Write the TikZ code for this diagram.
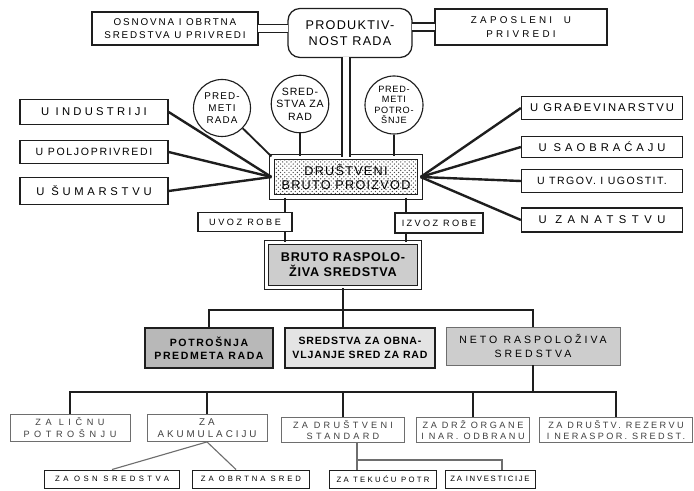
\documentclass[tikz,border=0pt]{standalone}
\usepackage{fontspec}
\setmainfont{Liberation Sans}
\usepackage{tikz}
\usetikzlibrary{patterns,calc}
\definecolor{ink}{HTML}{1E1E1E}
\definecolor{inkgray}{HTML}{6E6E6E}
\definecolor{darkfill}{HTML}{B8B8B8}
\definecolor{midfill}{HTML}{CDCDCD}
\definecolor{lightfill}{HTML}{E4E4E4}
\newcommand\lett[3]{\fontsize{#1}{#2}\selectfont\addfontfeature{LetterSpace=#3}}
\tikzset{
  wh/.style 2 args={minimum width=#1*0.025cm,minimum height=#2*0.025cm},
  dia/.style={minimum size=#1*0.025cm},
  box/.style={draw=ink,fill=white,line width=0.9pt,align=center,inner sep=0pt},
  thinbox/.style={draw=inkgray,fill=white,line width=0.6pt,align=center,
                  inner sep=0pt,text=ink!85},
  roundbox/.style={box,rounded corners=0.3cm},
  ball/.style={draw=ink,fill=white,circle,line width=0.8pt,align=center,
               inner sep=0pt},
  dotbox/.style={draw=ink,line width=0.8pt,double=white,double distance=2.4pt,
                 pattern=crosshatch dots,pattern color=ink!80,align=center,
                 inner sep=0pt},
  greybox/.style={draw=ink,line width=0.8pt,double=white,double distance=2pt,
                  fill=midfill,align=center,inner sep=0pt},
  darkbox/.style={draw=ink,fill=darkfill,line width=1.2pt,align=center,
                  inner sep=0pt},
  lightbox/.style={draw=ink,fill=lightfill,line width=1pt,align=center,
                   inner sep=0pt},
  palebox/.style={draw=inkgray,fill=midfill,line width=0.6pt,align=center,
                  inner sep=0pt},
  link/.style={draw=ink,line width=1.3pt},
  spoke/.style={draw=ink,line width=1.7pt},
  bus/.style={draw=ink,line width=1.6pt},
  thinlink/.style={draw=inkgray,line width=0.8pt},
  pipe/.style={draw=ink,line width=0.8pt,double=white,double distance=0.17cm,
               shorten <=-0.5pt,shorten >=-0.5pt}
}

\begin{document}
\begin{tikzpicture}[x=0.025cm,y=-0.025cm]
  \useasboundingbox (0,0) rectangle (694,491);

  \node[box,wh={166}{33},font=\lett{7}{9.5}{19}] (osnovna) at (175,28.5)
    {OSNOVNA I OBRTNA\\SREDSTVA U PRIVREDI};
  \node[roundbox,wh={124}{49},font=\lett{9}{11}{10}] (prod) at (350,33)
    {PRODUKTIV-\\NOST RADA};
  \node[box,wh={172}{36},font=\lett{7}{10.5}{33}] (zaposleni) at (521,27)
    {ZAPOSLENI\hspace{1.2em}U\\PRIVREDI};

  \node[ball,dia=57,font=\lett{7}{8.5}{12}] (predrada) at (222,108)
    {PRED-\\METI\\RADA};
  \node[ball,dia=56,font=\lett{7.5}{9}{8}] (sredrad) at (300,104)
    {SRED-\\STVA ZA\\RAD};
  \node[ball,dia=58,font=\lett{6.5}{7.5}{8}] (predpotr) at (394,105)
    {PRED-\\METI\\POTRO-\\ŠNJE};

  \node[box,wh={148}{25},font=\lett{8}{9}{29}] (industrija) at (94,112) {U INDUSTRIJI};
  \node[box,wh={148}{23},font=\lett{7.5}{9}{16}] (poljopr) at (94,152) {U POLJOPRIVREDI};
  \node[box,wh={148}{27},font=\lett{8}{9}{33}] (sumarstvo) at (94,191) {U ŠUMARSTVU};

  \node[box,wh={161}{23},font=\lett{8}{9}{18}] (gradj) at (602,108) {U GRAĐEVINARSTVU};
  \node[box,wh={161}{21},font=\lett{8}{9}{35}] (saobr) at (602,147) {U SAOBRAĆAJU};
  \node[box,wh={161}{23},font=\lett{7.5}{9}{14}] (trgov) at (602,181) {U TRGOV. I UGOSTIT.};
  \node[box,wh={161}{24},font=\lett{8}{9}{49}] (zanat) at (602,220) {U ZANATSTVU};

  \node[dotbox,wh={148}{40},font=\lett{9}{10}{10}] (dbp) at (346,177)
    {DRUŠTVENI\\BRUTO PROIZVOD};
  \node[box,wh={94}{19},line width=0.8pt,font=\lett{6.5}{8}{28}] (uvoz) at (245,222)
    {UVOZ ROBE};
  \node[box,wh={88}{20},line width=0.8pt,font=\lett{6.5}{8}{26}] (izvoz) at (439,223)
    {IZVOZ ROBE};
  \node[greybox,wh={153}{45},font={\bfseries\lett{9}{10.5}{6}}] (brs) at (343,265)
    {BRUTO RASPOLO-\\ŽIVA SREDSTVA};

  \node[darkbox,wh={128}{40},font={\bfseries\lett{7.5}{9.5}{15}}] (potrosnja) at (209,348)
    {POTROŠNJA\\PREDMETA RADA};
  \node[lightbox,wh={150}{40},font={\bfseries\lett{7.5}{9.5}{8}}] (obnavlj) at (360,348)
    {SREDSTVA ZA OBNA-\\VLJANJE SRED ZA RAD};
  \node[palebox,wh={174}{38},font=\lett{7.5}{9.5}{28}] (neto) at (533,346)
    {NETO\hspace{0.6em}RASPOLOŽIVA\\SREDSTVA};

  \node[thinbox,wh={120}{27},font=\lett{6.5}{8.5}{50}] (licnu) at (70,428)
    {ZA LIČNU\\POTROŠNJU};
  \node[thinbox,wh={120}{27},font=\lett{7}{8.5}{30}] (akum) at (207,428)
    {ZA\\AKUMULACIJU};
  \node[thinbox,wh={123}{25},font=\lett{6.5}{8}{36}] (drstandard) at (343,430)
    {ZA DRUŠTVENI\\STANDARD};
  \node[thinbox,wh={113}{25},font=\lett{6.5}{8}{28}] (drzorg) at (473,430)
    {ZA DRŽ ORGANE\\I NAR. ODBRANU};
  \node[thinbox,wh={153}{25},font=\lett{6.5}{8}{26}] (rezervu) at (616,430)
    {ZA DRUŠTV. REZERVU\\I NERASPOR. SREDST.};

  \node[box,wh={135}{18},line width=0.7pt,font=\lett{5.5}{6.5}{45}] (osnsr) at (112,479)
    {ZA OSN SREDSTVA};
  \node[box,wh={117}{18},line width=0.7pt,font=\lett{5.5}{6.5}{38}] (obrtna) at (251,479)
    {ZA OBRTNA SRED};
  \node[box,wh={107}{18},line width=0.7pt,font=\lett{5.5}{6.5}{30}] (tekucu) at (383,479)
    {ZA TEKUĆU POTR};
  \node[box,wh={90}{18},line width=0.7pt,font=\lett{5.5}{6.5}{22}] (invest) at (490,479)
    {ZA INVESTICIJE};

  \draw[pipe] (osnovna.east) -- (osnovna.east -| prod.west);
  \draw[pipe] (zaposleni.west -| prod.east) -- (zaposleni.west);
  \draw[pipe] (prod.south -| dbp.north) -- (dbp.north);

  \draw[link] (predrada) -- (dbp.north west);
  \draw[link] (sredrad.south) -- (sredrad.south |- dbp.north);
  \draw[link] (predpotr.south) -- (predpotr.south |- dbp.north);
  \foreach \n in {industrija,poljopr,sumarstvo}
    \draw[spoke] (\n.east) -- (dbp.west);
  \foreach \n in {gradj,saobr,trgov,zanat}
    \draw[spoke] (dbp.east) -- (\n.west);

  \coordinate (uvx) at (285,0);
  \coordinate (izx) at (406,0);
  \draw[link] (uvx |- dbp.south) -- (uvx |- uvoz.north);
  \draw[link] (uvx |- uvoz.south) -- (uvx |- brs.north);
  \draw[link] (izx |- dbp.south) -- (izx |- izvoz.north);
  \draw[link] (izx |- izvoz.south) -- (izx |- brs.north);

  \coordinate (bus1) at (0,310);
  \draw[link] (brs.south) -- (brs.south |- obnavlj.north);
  \draw[bus] (potrosnja.north) |- (neto.north |- bus1) -- (neto.north);

  \coordinate (bus2) at (0,392);
  \draw[link] (neto.south) -- (neto.south |- bus2);
  \draw[bus] (licnu.north) |- (rezervu.north |- bus2) -- (rezervu.north);
  \foreach \n in {akum,drstandard,drzorg}
    \draw[link] (\n.north) -- (\n.north |- bus2);

  \draw[thinlink] (akum.south) -- (osnsr.north);
  \draw[thinlink] (akum.south) -- ([xshift=-0.375cm]obrtna.north);
  \coordinate (stdj) at (357,460);
  \draw[thinlink] (stdj |- drstandard.south) -- (stdj |- tekucu.north);
  \draw[thinlink] (stdj) -| ([xshift=0.3cm]invest.north);
\end{tikzpicture}
\end{document}
